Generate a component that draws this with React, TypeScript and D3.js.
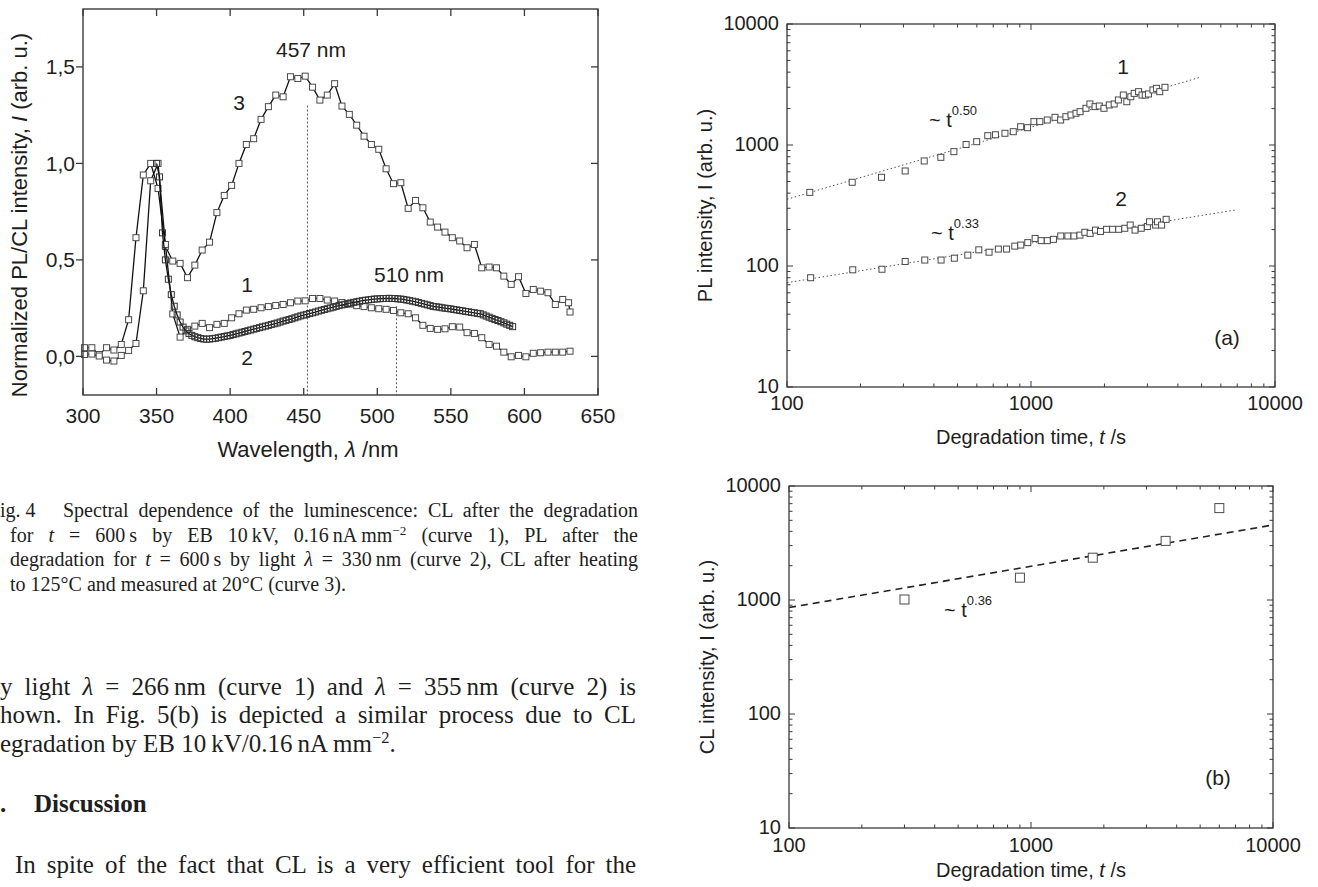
import React, { useLayoutEffect, useRef } from "react";
import * as d3 from "d3";

const SANS = "'Liberation Sans', Arial, Helvetica, sans-serif";
const SERIF = "'Liberation Serif', 'Times New Roman', Times, serif";
const INK = "#1e1e1e";
const AXIS = "#3a3a3a";
const MARK = "#4a4a4a";

// ---------- Fig. 4: luminescence spectra ----------
const wlTicks = [300, 350, 400, 450, 500, 550, 600, 650];
const intTicks = [0, 0.5, 1.0, 1.5];
const intTickLabels = ["0,0", "0,5", "1,0", "1,5"];

// curve 1 (CL after degradation)
const wl1 = [301, 306, 311, 316, 321, 326, 331, 336, 341, 346, 351, 356, 361, 366, 371, 376, 381, 386, 391, 396, 401, 406, 411, 416, 421, 426, 431, 436, 441, 446, 451, 456, 461, 466, 471, 476, 481, 486, 491, 496, 501, 506, 511, 516, 521, 526, 531, 536, 541, 546, 551, 556, 561, 566, 571, 576, 581, 586, 591, 596, 601, 606, 611, 616, 621, 626, 631];
const curve1 = [0.01, 0.012, 0.002, -0.019, -0.024, 0.005, 0.031, 0.067, 0.34, 0.91, 1.0, 0.58, 0.22, 0.1, 0.14, 0.157, 0.171, 0.149, 0.166, 0.171, 0.2, 0.221, 0.24, 0.244, 0.252, 0.258, 0.264, 0.269, 0.278, 0.287, 0.288, 0.3, 0.3, 0.292, 0.287, 0.279, 0.271, 0.263, 0.258, 0.252, 0.247, 0.244, 0.238, 0.226, 0.221, 0.2, 0.161, 0.145, 0.14, 0.143, 0.154, 0.152, 0.123, 0.119, 0.097, 0.062, 0.053, 0.022, -0.002, 0.005, -0.002, 0.016, 0.019, 0.022, 0.022, 0.022, 0.027];

// curve 3 (CL after heating)
const wl3 = [301, 306, 311, 316, 321, 326, 331, 336, 341, 346, 351, 356, 361, 366, 371, 376, 381, 386, 391, 396, 401, 406, 411, 416, 421, 426, 431, 436, 441, 446, 451, 456, 461, 466, 471, 476, 481, 486, 491, 496, 501, 506, 511, 516, 521, 526, 531, 536, 541, 546, 551, 556, 561, 566, 571, 576, 581, 586, 591, 596, 601, 606, 611, 616, 621, 626, 630, 631];
const curve3 = [0.045, 0.045, 0.01, 0.045, 0.033, 0.062, 0.19, 0.615, 0.94, 1.0, 0.87, 0.57, 0.494, 0.482, 0.408, 0.473, 0.551, 0.592, 0.745, 0.834, 0.886, 1.0, 1.098, 1.128, 1.228, 1.294, 1.354, 1.345, 1.449, 1.44, 1.452, 1.395, 1.328, 1.354, 1.413, 1.297, 1.254, 1.198, 1.141, 1.098, 1.073, 0.972, 0.895, 0.9, 0.767, 0.808, 0.77, 0.696, 0.67, 0.644, 0.615, 0.598, 0.563, 0.58, 0.459, 0.463, 0.459, 0.416, 0.373, 0.413, 0.326, 0.347, 0.338, 0.33, 0.269, 0.295, 0.278, 0.23];

// curve 2 (PL, densely sampled)
const wl2 = [350, 352, 354, 356, 358, 360, 362, 364, 366, 368, 370, 372, 374, 376, 378, 380, 382, 384, 386, 388, 390, 392, 394, 396, 398, 400, 402, 404, 406, 408, 410, 412, 414, 416, 418, 420, 422, 424, 426, 428, 430, 432, 434, 436, 438, 440, 442, 444, 446, 448, 450, 452, 454, 456, 458, 460, 462, 464, 466, 468, 470, 472, 474, 476, 478, 480, 482, 484, 486, 488, 490, 492, 494, 496, 498, 500, 502, 504, 506, 508, 510, 512, 514, 516, 518, 520, 522, 524, 526, 528, 530, 532, 534, 536, 538, 540, 542, 544, 546, 548, 550, 552, 554, 556, 558, 560, 562, 564, 566, 568, 570, 572, 574, 576, 578, 580, 582, 584, 586, 588, 590, 592];
const curve2 = [1.0, 0.93, 0.64, 0.5, 0.4, 0.32, 0.26, 0.215, 0.178, 0.152, 0.132, 0.119, 0.109, 0.102, 0.097, 0.093, 0.09, 0.089, 0.09, 0.092, 0.094, 0.097, 0.1, 0.103, 0.106, 0.109, 0.113, 0.117, 0.121, 0.125, 0.129, 0.133, 0.137, 0.141, 0.145, 0.149, 0.153, 0.157, 0.161, 0.165, 0.169, 0.173, 0.178, 0.183, 0.187, 0.191, 0.195, 0.2, 0.205, 0.21, 0.214, 0.218, 0.222, 0.226, 0.23, 0.235, 0.239, 0.243, 0.247, 0.251, 0.255, 0.259, 0.263, 0.267, 0.27, 0.274, 0.277, 0.28, 0.283, 0.286, 0.289, 0.291, 0.293, 0.295, 0.297, 0.298, 0.299, 0.3, 0.3, 0.301, 0.3, 0.3, 0.298, 0.297, 0.295, 0.292, 0.289, 0.286, 0.283, 0.279, 0.275, 0.271, 0.267, 0.263, 0.259, 0.257, 0.255, 0.252, 0.25, 0.248, 0.246, 0.243, 0.241, 0.238, 0.236, 0.233, 0.231, 0.228, 0.226, 0.223, 0.221, 0.215, 0.209, 0.203, 0.197, 0.191, 0.186, 0.18, 0.174, 0.167, 0.161, 0.154];

// peak markers: wavelength and top of the dotted guide
const peakWl = [452.5, 513];
const peakTop = [1.3, 0.26];

// ---------- Fig. 5(a): PL intensity vs time ----------
const tA1 = [124, 185, 244, 305, 365, 427, 483, 542, 599, 665, 715, 782, 846, 907, 968, 1028, 1087, 1166, 1254, 1323, 1390, 1458, 1529, 1589, 1680, 1744, 1830, 1905, 1991, 2093, 2192, 2281, 2390, 2470, 2565, 2648, 2760, 2850, 2940, 3030, 3160, 3270, 3370, 3540];
const iA1 = [406, 492, 541, 610, 738, 791, 881, 1010, 1065, 1194, 1215, 1250, 1288, 1416, 1390, 1560, 1560, 1609, 1694, 1609, 1714, 1771, 1829, 1885, 2011, 2183, 2075, 2100, 2011, 2142, 2183, 2355, 2588, 2278, 2506, 2671, 2760, 2588, 2588, 2640, 2851, 2939, 2760, 2998];
const tA2 = [125, 186, 245, 305, 367, 428, 485, 551, 611, 673, 735, 794, 858, 908, 970, 1040, 1101, 1166, 1236, 1324, 1416, 1500, 1587, 1662, 1747, 1838, 1927, 2040, 2160, 2288, 2423, 2550, 2670, 2830, 3000, 3060, 3240, 3300, 3430, 3580];
const iA2 = [80, 93, 94, 109, 112, 112, 116, 123, 136, 130, 138, 138, 146, 149, 156, 169, 162, 162, 166, 177, 177, 177, 180, 190, 186, 198, 193, 201, 201, 201, 205, 218, 198, 205, 212, 232, 218, 232, 218, 243];
const fitA1T = [100, 4930];
const fitA1I = [356, 3627];
const fitA2T = [100, 6855];
const fitA2I = [72.8, 290];

// ---------- Fig. 5(b): CL intensity vs time ----------
const tB = [300, 900, 1800, 3600, 6000];
const iB = [1010, 1570, 2350, 3300, 6400];
const fitBT = [100, 10000];
const fitBI = [858, 4550];

const decadesX = [100, 1000, 10000];
const decadesY = [10, 100, 1000, 10000];

// ---------- text around the figures ----------
type Seg = { t: string; i?: boolean; sup?: boolean };
type Line = { x: number; y: number; len?: number; segs: Seg[] };
const captionLines: Line[] = [
  { x: 63, y: 517, len: 575, segs: [{ t: "Spectral dependence of the luminescence: CL after the degradation" }] },
  { x: 10, y: 542, len: 628, segs: [{ t: "for " }, { t: "t", i: true }, { t: " = 600\u2009s by EB 10\u2009kV, 0.16\u2009nA\u2009mm" }, { t: "\u22122", sup: true }, { t: " (curve 1), PL after the" }] },
  { x: 10, y: 566, len: 628, segs: [{ t: "degradation for " }, { t: "t", i: true }, { t: " = 600\u2009s by light " }, { t: "\u03bb", i: true }, { t: " = 330\u2009nm (curve 2), CL after heating" }] },
  { x: 10, y: 591, segs: [{ t: "to 125\u00b0C and measured at 20\u00b0C (curve 3)." }] },
];
const bodyLines: Line[] = [
  { x: 0, y: 695, len: 636, segs: [{ t: "y light " }, { t: "\u03bb", i: true }, { t: " = 266\u2009nm (curve 1) and " }, { t: "\u03bb", i: true }, { t: " = 355\u2009nm (curve 2) is" }] },
  { x: 0, y: 723, len: 636, segs: [{ t: "hown. In Fig. 5(b) is depicted a similar process due to CL" }] },
  { x: 0, y: 752, segs: [{ t: "egradation by EB 10\u2009kV/0.16\u2009nA\u2009mm" }, { t: "\u22122", sup: true }, { t: "." }] },
  { x: 15, y: 873, len: 621, segs: [{ t: "In spite of the fact that CL is a very efficient tool for the" }] },
];

// justified line: stretch the word gaps so the line ends at x + len
function Rich({ x, y, size, segs, len }: { x: number; y: number; size: number; segs: Seg[]; len?: number }) {
  const ref = useRef<SVGTextElement>(null);
  useLayoutEffect(() => {
    const el = ref.current;
    if (!el || !len) return;
    el.style.wordSpacing = "0px";
    const natural = el.getComputedTextLength();
    const gaps = (el.textContent || "").split(" ").length - 1;
    if (gaps > 0) el.style.wordSpacing = `${(len - natural) / gaps}px`;
  }, [len, size]);
  let prevSup = false;
  const lift = size * 0.36;
  return (
    <text ref={ref} x={x} y={y} fontFamily={SERIF} fontSize={size} fill={INK}>
      {segs.map((s, k) => {
        let dy = 0;
        if (s.sup && !prevSup) dy = -lift;
        if (!s.sup && prevSup) dy = lift;
        prevSup = !!s.sup;
        return (
          <tspan key={k} dy={dy || undefined} fontStyle={s.i ? "italic" : undefined}
            fontSize={s.sup ? size * 0.66 : undefined}>{s.t}</tspan>
        );
      })}
    </text>
  );
}

const isDecade = (v: number) => Math.abs(Math.log10(v) - Math.round(Math.log10(v))) < 1e-6;

function Squares({ xs, ys, size, fill = "#fff", stroke = MARK }: { xs: number[]; ys: number[]; size: number; fill?: string; stroke?: string }) {
  return (
    <g fill={fill} stroke={stroke} strokeWidth={1}>
      {xs.map((px, k) => (
        <rect key={k} x={px - size / 2} y={ys[k] - size / 2} width={size} height={size} />
      ))}
    </g>
  );
}

function Fig4() {
  const x = d3.scaleLinear().domain([300, 650]).range([83, 598]);
  const y = d3.scaleLinear().domain([-0.2, 1.8]).range([395, 9]);
  const [x0, x1] = x.range();
  const [y0, y1] = y.range();
  const path = (xs: number[], ys: number[]) =>
    d3.line<number>().x((_, k) => x(xs[k])).y((d) => y(d))(ys) || "";
  const T = 7;
  return (
    <g fontFamily={SANS} fill={INK}>
      {peakWl.map((w, k) => (
        <line key={k} x1={x(w)} x2={x(w)} y1={y(peakTop[k])} y2={y0}
          stroke="#555" strokeWidth={1} strokeDasharray="2,2" />
      ))}
      <path d={path(wl3, curve3)} fill="none" stroke="#111" strokeWidth={1.3} />
      <Squares xs={wl3.map((w) => x(w))} ys={curve3.map((v) => y(v))} size={6} />
      <path d={path(wl1, curve1)} fill="none" stroke="#111" strokeWidth={1.3} />
      <Squares xs={wl1.map((w) => x(w))} ys={curve1.map((v) => y(v))} size={6} />
      <path d={path(wl2, curve2)} fill="none" stroke="#111" strokeWidth={1.3} />
      <Squares xs={wl2.map((w) => x(w))} ys={curve2.map((v) => y(v))} size={6} fill="none" stroke="#333" />

      <rect x={x0} y={y1} width={x1 - x0} height={y0 - y1} fill="none" stroke={AXIS} strokeWidth={1.4} />
      <g stroke={AXIS} strokeWidth={1.3}>
        {wlTicks.map((w) => (
          <g key={w}>
            <line x1={x(w)} x2={x(w)} y1={y0} y2={y0 - T} />
            <line x1={x(w)} x2={x(w)} y1={y1} y2={y1 + T} />
          </g>
        ))}
        {intTicks.map((v) => (
          <g key={v}>
            <line x1={x0 - T} x2={x0} y1={y(v)} y2={y(v)} />
            <line x1={x1 - T} x2={x1} y1={y(v)} y2={y(v)} />
          </g>
        ))}
      </g>
      <g fontSize={21} textAnchor="middle">
        {wlTicks.map((w) => (
          <text key={w} x={x(w)} y={423}>{w}</text>
        ))}
      </g>
      <g fontSize={21} textAnchor="end">
        {intTicks.map((v, k) => (
          <text key={v} x={75} y={y(v) + 7.5}>{intTickLabels[k]}</text>
        ))}
      </g>
      <text x={308} y={457} fontSize={22} textAnchor="middle">
        Wavelength, <tspan fontStyle="italic">{"\u03bb"}</tspan> /nm
      </text>
      <text transform="translate(19,215) rotate(-90)" fontSize={22} textAnchor="middle" dominantBaseline="central">
        Normalized PL/CL intensity, <tspan fontStyle="italic">I</tspan> (arb. u.)
      </text>
      <g fontSize={21} textAnchor="middle">
        <text x={311} y={57}>457 nm</text>
        <text x={409} y={282}>510 nm</text>
        <text x={239} y={110}>3</text>
        <text x={247} y={292}>1</text>
        <text x={247} y={365}>2</text>
      </g>
    </g>
  );
}

function LogFrame({ x, y, labelY, titleY, yTitle, yTitleX }: {
  x: d3.ScaleLogarithmic<number, number>; y: d3.ScaleLogarithmic<number, number>;
  labelY: number; titleY: number; yTitle: string; yTitleX: number;
}) {
  const [x0, x1] = x.range();
  const [y0, y1] = y.range();
  return (
    <g fontFamily={SANS} fill={INK}>
      <rect x={x0} y={y1} width={x1 - x0} height={y0 - y1} fill="none" stroke={AXIS} strokeWidth={1.3} />
      <g stroke={AXIS} strokeWidth={1}>
        {x.ticks().map((v) => {
          const L = isDecade(v) ? 6 : 3.5;
          return (
            <g key={v}>
              <line x1={x(v)} x2={x(v)} y1={y0} y2={y0 - L} />
              <line x1={x(v)} x2={x(v)} y1={y1} y2={y1 + L} />
            </g>
          );
        })}
        {y.ticks().map((v) => {
          const L = isDecade(v) ? 6 : 3.5;
          return (
            <g key={v}>
              <line x1={x0} x2={x0 + L} y1={y(v)} y2={y(v)} />
              <line x1={x1} x2={x1 - L} y1={y(v)} y2={y(v)} />
            </g>
          );
        })}
      </g>
      <g fontSize={20} textAnchor="middle">
        {decadesX.map((v) => (
          <text key={v} x={x(v)} y={labelY}>{v}</text>
        ))}
      </g>
      <g fontSize={20} textAnchor="end">
        {decadesY.map((v) => (
          <text key={v} x={x0 - 8} y={y(v) + 6}>{v}</text>
        ))}
      </g>
      <text x={(x0 + x1) / 2} y={titleY} fontSize={20} textAnchor="middle">
        Degradation time, <tspan fontStyle="italic">t</tspan> /s
      </text>
      <text transform={`translate(${yTitleX},${(y0 + y1) / 2}) rotate(-90)`} fontSize={20}
        textAnchor="middle" dominantBaseline="central">{yTitle}</text>
    </g>
  );
}

function Power({ x, y, exp }: { x: number; y: number; exp: string }) {
  return (
    <text x={x} y={y} fontFamily={SANS} fontSize={20} fill={INK}>
      ~ t<tspan dy={-12} fontSize={13}>{exp}</tspan>
    </text>
  );
}

function Fig5a() {
  const x = d3.scaleLog().domain([100, 10000]).range([787, 1275]);
  const y = d3.scaleLog().domain([10, 10000]).range([387, 24]);
  const fit = (ts: number[], is: number[]) =>
    d3.line<number>().x((t) => x(t)).y((_, k) => y(is[k]))(ts) || "";
  return (
    <g>
      <path d={fit(fitA1T, fitA1I)} fill="none" stroke="#555" strokeWidth={1} strokeDasharray="1.5,2.5" />
      <path d={fit(fitA2T, fitA2I)} fill="none" stroke="#555" strokeWidth={1} strokeDasharray="1.5,2.5" />
      <Squares xs={tA1.map((t) => x(t))} ys={iA1.map((v) => y(v))} size={6} />
      <Squares xs={tA2.map((t) => x(t))} ys={iA2.map((v) => y(v))} size={6} />
      <LogFrame x={x} y={y} labelY={410} titleY={444} yTitle="PL intensity, I (arb. u.)" yTitleX={705} />
      <g fontFamily={SANS} fontSize={21} fill={INK} textAnchor="middle">
        <text x={1123} y={74}>1</text>
        <text x={1121} y={206}>2</text>
        <text x={1227} y={345}>(a)</text>
      </g>
      <Power x={929} y={127} exp="0.50" />
      <Power x={931} y={240} exp="0.33" />
    </g>
  );
}

function Fig5b() {
  const x = d3.scaleLog().domain([100, 10000]).range([789, 1273]);
  const y = d3.scaleLog().domain([10, 10000]).range([828, 486]);
  const fit = d3.line<number>().x((t) => x(t)).y((_, k) => y(fitBI[k]))(fitBT) || "";
  return (
    <g>
      <path d={fit} fill="none" stroke="#222" strokeWidth={1.6} strokeDasharray="7,5" />
      <Squares xs={tB.map((t) => x(t))} ys={iB.map((v) => y(v))} size={9} />
      <LogFrame x={x} y={y} labelY={852} titleY={877} yTitle="CL intensity, I (arb. u.)" yTitleX={707} />
      <text x={1218} y={785} fontFamily={SANS} fontSize={21} fill={INK} textAnchor="middle">(b)</text>
      <Power x={944} y={617} exp="0.36" />
    </g>
  );
}

export default function App() {
  return (
    <div style={{ position: "absolute", left: 0, top: 0, background: "#fff" }}>
      <svg width={1318} height={887} viewBox="0 0 1318 887" style={{ display: "block" }}>
        <rect width={1318} height={887} fill="#fff" />
        <Fig4 />
        <Fig5a />
        <Fig5b />
        <text x={0} y={517} fontFamily={SERIF} fontSize={20} fill={INK}>ig. 4</text>
        {captionLines.map((l, k) => (
          <Rich key={k} x={l.x} y={l.y} size={20} segs={l.segs} len={l.len} />
        ))}
        {bodyLines.map((l, k) => (
          <Rich key={k} x={l.x} y={l.y} size={25} segs={l.segs} len={l.len} />
        ))}
        <text x={0} y={812} fontFamily={SERIF} fontSize={25} fontWeight="bold" fill={INK}>.</text>
        <text x={34} y={812} fontFamily={SERIF} fontSize={25} fontWeight="bold" fill={INK}>Discussion</text>
      </svg>
    </div>
  );
}
